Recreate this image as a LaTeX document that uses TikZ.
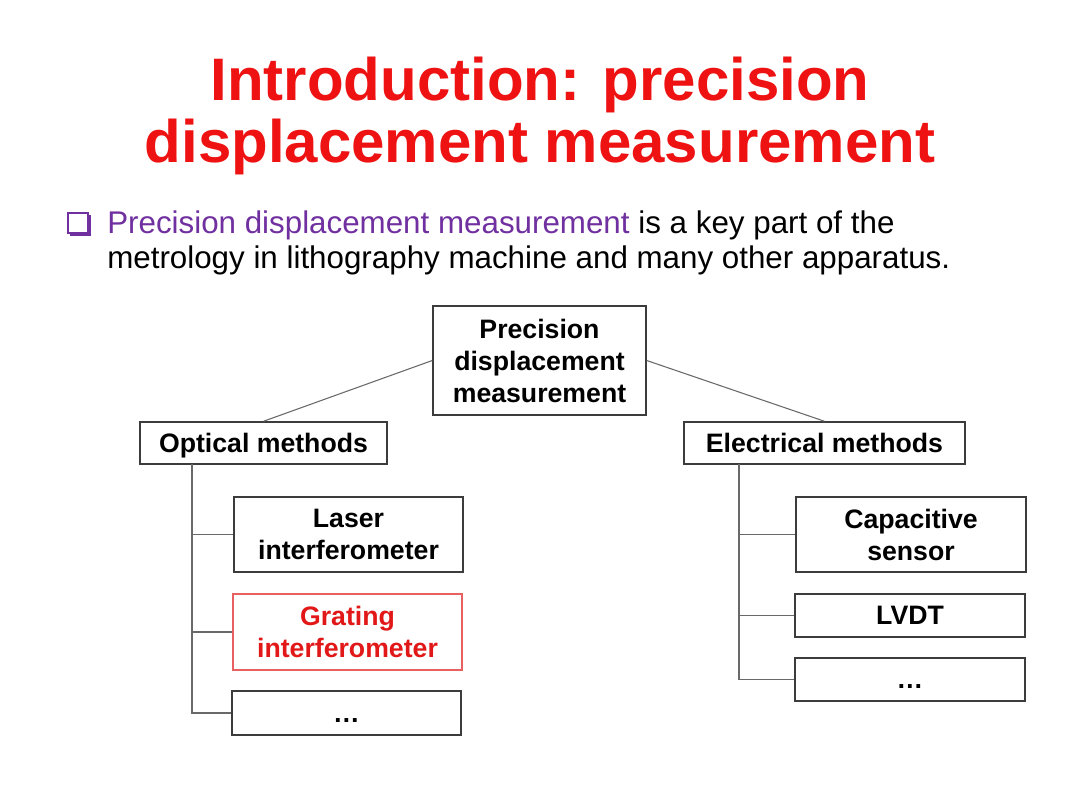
\documentclass[tikz,border=0pt]{standalone}
\usepackage{fontspec}
\setmainfont{Liberation Sans}

\definecolor{titelrot}{RGB}{238,18,18}
\definecolor{lila}{RGB}{112,48,160}
\definecolor{randgrau}{RGB}{60,60,60}
\definecolor{liniengrau}{RGB}{105,105,105}
\definecolor{hellrot}{RGB}{232,96,96}
\definecolor{textrot}{RGB}{226,24,24}

\tikzset{
  kasten/.style={draw=randgrau, line width=1.1pt, align=center, inner sep=0pt,
    font=\fontsize{20}{24}\selectfont\bfseries},
  einzeilig/.style={text height=18pt, text depth=4pt},
  verb/.style={draw=liniengrau, line width=0.8pt},
  titel/.style={anchor=base, inner sep=0pt, text=titelrot,
    font=\fontsize{45}{47}\selectfont\bfseries},
  zeile/.style={anchor=base west, inner sep=0pt, font=\fontsize{23.5}{26}\selectfont}
}

\begin{document}
\begin{tikzpicture}[x=0.75pt,y=-0.75pt]
\useasboundingbox[fill=white] (0,0) rectangle (1080,810);
    % Titel:
    \node[titel] (titel1) at (540,100) {Introduction: precision};
    \node[titel] (titel2) at (540,162) {displacement measurement};
    % Aufzaehlungspunkt:
    \fill[lila] (70,232) rectangle (91,236); % Schatten unten
    \fill[lila] (87,215) rectangle (91,236); % Schatten rechts
    \draw[lila, line width=1.1pt] (68,213) rectangle (88,233);
    \node[zeile] (zeile1) at (107,233) {\textcolor{lila}{Precision displacement measurement} is a key part of the};
    \node[zeile] (zeile2) at (107,268) {metrology in lithography machine and many other apparatus.};
    % oberster Kasten:
    \node[kasten, minimum width=213*0.75pt, minimum height=109*0.75pt] (wurzel) at (539.5,360.5) {Precision\\displacement\\measurement};
    % zweite Ebene:
    \node[kasten, einzeilig, minimum width=247*0.75pt, minimum height=42*0.75pt] (optisch) at (263.5,443) {Optical methods};
    \node[kasten, einzeilig, minimum width=281*0.75pt, minimum height=42*0.75pt] (elektrisch) at (824.5,443) {Electrical methods};
    % links:
    \node[kasten, minimum width=229*0.75pt, minimum height=75*0.75pt] (laser) at (348.5,534.5) {Laser\\interferometer};
    \node[kasten, draw=hellrot, text=textrot, minimum width=229*0.75pt, minimum height=76*0.75pt] (gitter) at (347.5,632) {Grating\\interferometer};
    \node[kasten, einzeilig, minimum width=229*0.75pt, minimum height=44*0.75pt] (punktel) at (346.5,713) {…};
    % rechts:
    \node[kasten, minimum width=230*0.75pt, minimum height=75*0.75pt] (kapazitiv) at (911,534.5) {Capacitive\\sensor};
    \node[kasten, einzeilig, minimum width=230*0.75pt, minimum height=43*0.75pt] (lvdt) at (910,615.5) {LVDT};
    \node[kasten, einzeilig, minimum width=230*0.75pt, minimum height=43*0.75pt] (punkter) at (910,679.5) {…};
    % Verbindungen:
    \draw[verb] (wurzel.west) -- (optisch.north);
    \draw[verb] (wurzel.east) -- (elektrisch.north);
    \coordinate (lstamm) at (192,464);
    \coordinate (rstamm) at (739,464);
    \draw[verb] (lstamm) |- (laser.west);
    \draw[verb] (lstamm) |- (gitter.west);
    \draw[verb] (lstamm) |- (punktel.west);
    \draw[verb] (rstamm) |- (kapazitiv.west);
    \draw[verb] (rstamm) |- (lvdt.west);
    \draw[verb] (rstamm) |- (punkter.west);
\end{tikzpicture}
\end{document}
